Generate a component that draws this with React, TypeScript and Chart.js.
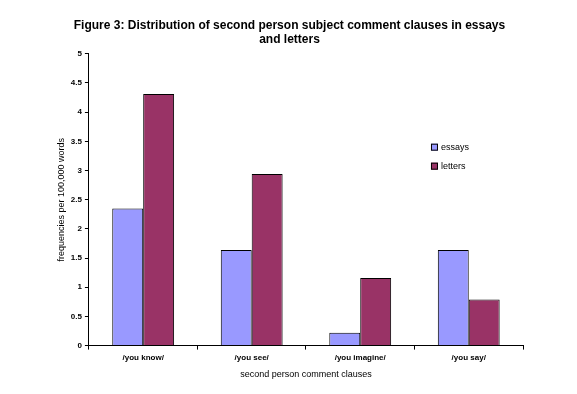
import React, { useEffect, useRef } from "react";
import { Chart, registerables } from "chart.js";

Chart.register(...registerables);

const categories = ["/you know/", "/you see/", "/you imagine/", "/you say/"];
const essays = [2.35, 1.64, 0.22, 1.64];
const letters = [4.31, 2.94, 1.16, 0.79];
const seriesNames = ["essays", "letters"];
const seriesColors = ["#9999FF", "#993366"];

const FONT = "'Liberation Sans', Arial, sans-serif";

const insideLegend = {
  id: "insideLegend",
  afterDraw(chart: any) {
    const ctx = chart.ctx;
    const { left, right, top, bottom } = chart.chartArea;
    const x = left + (right - left) * 0.788;
    const y0 = top + (bottom - top) * 0.32;
    ctx.save();
    ctx.font = `9px ${FONT}`;
    ctx.textBaseline = "middle";
    seriesNames.forEach((name, i) => {
      const y = y0 + i * 19;
      ctx.fillStyle = seriesColors[i];
      ctx.fillRect(x, y - 3.5, 7, 7);
      ctx.strokeStyle = "#000";
      ctx.lineWidth = 1;
      ctx.strokeRect(x + 0.5, y - 3, 6, 6);
      ctx.fillStyle = "#000";
      ctx.fillText(name, x + 10, y);
    });
    ctx.restore();
  },
};

export default function App() {
  const ref = useRef<HTMLCanvasElement>(null);
  useEffect(() => {
    document.body.style.margin = "0";
    const chart = new Chart(ref.current!, {
      type: "bar",
      data: {
        labels: categories,
        datasets: [
          { label: seriesNames[0], data: essays, backgroundColor: seriesColors[0], borderColor: "#000", borderWidth: 1 },
          { label: seriesNames[1], data: letters, backgroundColor: seriesColors[1], borderColor: "#000", borderWidth: 1 },
        ],
      },
      options: {
        responsive: false,
        animation: false,
        layout: { padding: { left: 56, right: 54, top: 0, bottom: 14 } },
        datasets: { bar: { categoryPercentage: 0.57, barPercentage: 1 } } as any,
        plugins: {
          legend: { display: false },
          tooltip: { enabled: false },
          title: {
            display: true,
            text: [
              "Figure 3: Distribution of second person subject comment clauses in essays",
              "and letters",
            ],
            color: "#000",
            font: { family: FONT, size: 12, weight: "bold" },
            padding: { top: 18, bottom: 7 },
            lineHeight: 1.15,
          },
        },
        scales: {
          x: {
            grid: { offset: true, drawOnChartArea: false, color: "#000", tickLength: 4 },
            border: { color: "#000", width: 1 },
            ticks: { color: "#000", font: { family: FONT, size: 8, weight: "bold" }, padding: 3, maxRotation: 0 },
            title: { display: true, text: "second person comment clauses", color: "#000", font: { family: FONT, size: 9 }, padding: { top: 4, bottom: 0 } },
          },
          y: {
            min: 0,
            max: 5,
            grid: { drawOnChartArea: false, color: "#000", tickLength: 4 },
            border: { color: "#000", width: 1 },
            ticks: {
              stepSize: 0.5,
              color: "#000",
              font: { family: FONT, size: 8, weight: "bold" },
              padding: 3,
              callback: (v: any) => String(Number(v)),
            },
            title: { display: true, text: "frequencies per 100,000 words", color: "#000", font: { family: FONT, size: 9 }, padding: { top: 0, bottom: 1 } },
          },
        },
      },
      plugins: [insideLegend],
    });
    return () => chart.destroy();
  }, []);
  return <canvas ref={ref} width={577} height={394} style={{ display: "block" }} />;
}
